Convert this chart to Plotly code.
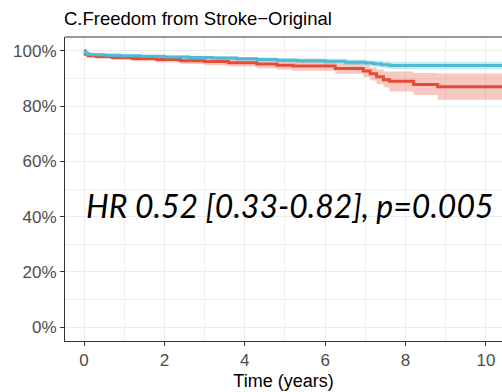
import plotly.graph_objects as go

# Kaplan-Meier estimates (time in years, survival in %)
blue_t = [0, 0.03, 0.08, 0.2, 0.5, 0.9, 1.4, 2.0, 2.6, 3.2, 3.8, 4.3, 4.8, 5.3, 6.0, 6.5, 7.0, 7.2, 7.4, 7.6, 10.4]
blue_s = [100, 99.3, 98.8, 98.6, 98.4, 98.2, 98.0, 97.8, 97.6, 97.4, 97.1, 96.9, 96.6, 96.4, 96.2, 95.9, 95.6, 95.3, 95.0, 94.7, 94.7]
blue_lo = [100, 98.9, 98.4, 98.2, 97.9, 97.7, 97.5, 97.2, 97.0, 96.7, 96.4, 96.1, 95.8, 95.5, 95.2, 94.9, 94.5, 94.1, 93.7, 93.3, 93.3]
blue_hi = [100, 99.7, 99.3, 99.1, 98.9, 98.7, 98.5, 98.3, 98.2, 98.0, 97.8, 97.6, 97.4, 97.2, 97.1, 96.9, 96.6, 96.4, 96.2, 96.0, 96.0]

red_t = [0, 0.03, 0.1, 0.3, 0.7, 1.2, 1.8, 2.4, 3.0, 3.6, 4.3, 4.8, 5.2, 6.25, 6.95, 7.12, 7.28, 7.45, 7.6, 8.2, 8.8, 10.4]
red_s = [100, 98.8, 98.2, 97.9, 97.6, 97.2, 96.9, 96.4, 96.1, 95.7, 95.2, 94.8, 94.5, 93.6, 92.7, 91.7, 90.6, 89.5, 89.0, 87.8, 87.0, 87.0]
red_lo = [100, 98.2, 97.5, 97.1, 96.7, 96.2, 95.8, 95.2, 94.8, 94.3, 93.7, 93.2, 92.8, 91.7, 90.5, 89.3, 88.0, 86.7, 85.3, 84.0, 82.3, 82.3]
red_hi = [100, 99.3, 98.9, 98.6, 98.4, 98.1, 97.9, 97.5, 97.3, 97.0, 96.6, 96.3, 96.1, 95.4, 94.7, 94.0, 93.2, 92.5, 92.5, 92.0, 91.8, 91.8]

x_ticks = [0, 2, 4, 6, 8, 10]
y_ticks = [0, 20, 40, 60, 80, 100]
y_labels = ["0%", "20%", "40%", "60%", "80%", "100%"]

RED = "#E64B35"
BLUE = "#4DBBD5"

fig = go.Figure()


def add_curve(t, s, lo, hi, color, band):
    fig.add_trace(go.Scatter(x=t, y=lo, mode="lines", line=dict(width=0, shape="hv"),
                             hoverinfo="skip", showlegend=False))
    fig.add_trace(go.Scatter(x=t, y=hi, mode="lines", line=dict(width=0, shape="hv"),
                             fill="tonexty", fillcolor=band, hoverinfo="skip", showlegend=False))
    fig.add_trace(go.Scatter(x=t, y=s, mode="lines", line=dict(color=color, width=3, shape="hv"),
                             showlegend=False))


add_curve(red_t, red_s, red_lo, red_hi, RED, "rgba(230,75,53,0.3)")
add_curve(blue_t, blue_s, blue_lo, blue_hi, BLUE, "rgba(77,187,213,0.3)")

axis_font = dict(family="Liberation Sans, Arial, sans-serif", size=17, color="#4D4D4D")

fig.update_xaxes(
    range=[-0.473, 10.40], tickvals=x_ticks, ticks="outside", ticklen=4, tickwidth=1,
    tickcolor="#333333", tickfont=axis_font, showline=True, linecolor="#333333", linewidth=1,
    showgrid=True, gridcolor="#EBEBEB", gridwidth=1, zeroline=False,
    minor=dict(dtick=1, tick0=0, showgrid=True, gridcolor="#F0F0F0", gridwidth=0.8),
    title=dict(text="Time (years)", font=dict(family="Liberation Sans, Arial, sans-serif", size=18, color="black"), standoff=4),
)
fig.update_yaxes(
    range=[-5, 105], tickvals=y_ticks, ticktext=y_labels, ticks="outside", ticklen=4, tickwidth=1,
    tickcolor="#333333", tickfont=axis_font, showline=True, linecolor="#333333", linewidth=1,
    showgrid=True, gridcolor="#EBEBEB", gridwidth=1, zeroline=False,
    minor=dict(dtick=10, tick0=0, showgrid=True, gridcolor="#F0F0F0", gridwidth=0.8),
)

# top edge of the panel border
fig.add_shape(type="line", xref="paper", yref="paper", x0=0, x1=1, y0=1, y1=1,
              line=dict(color="#333333", width=1))

fig.add_annotation(text="C.Freedom from Stroke\u2212Original", xref="paper", yref="paper",
                   x=0, y=1.061, xanchor="left", yanchor="middle", xshift=-3, showarrow=False,
                   font=dict(family="Liberation Sans, Arial, sans-serif", size=18.5, color="black"))

fig.add_annotation(text="<i>HR 0.52 [0.33-0.82], p=0.005</i>", x=5.12, y=44.2,
                   xanchor="center", yanchor="middle", showarrow=False,
                   font=dict(family="Lato, sans-serif", size=32, color="black"))

fig.update_layout(
    width=502, height=392, margin=dict(l=65, r=0, t=37, b=51),
    plot_bgcolor="white", paper_bgcolor="white",
)

fig.write_html("out.html")
